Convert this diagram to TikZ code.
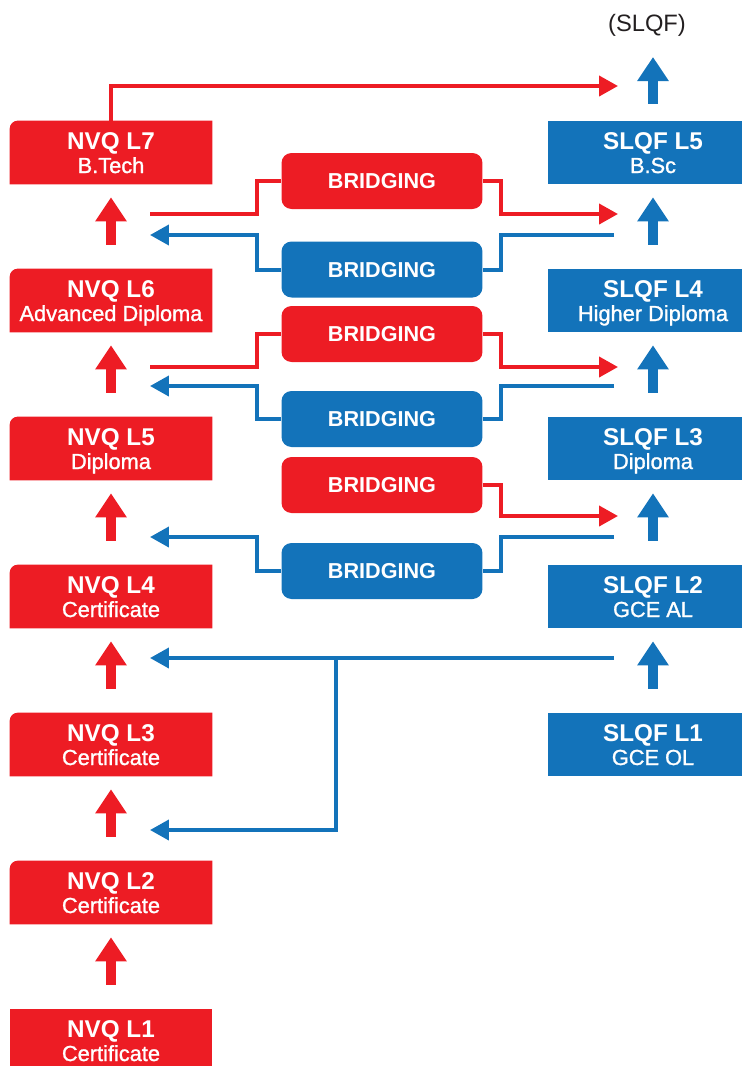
\documentclass[tikz,border=0pt]{standalone}
\usepackage{fontspec}
\setmainfont{Liberation Sans}
\newfontfamily\lvlsub[FakeBold=1.2]{Liberation Sans}
\usepackage{tikz}
\usetikzlibrary{arrows.meta}
\usetikzlibrary{positioning,calc,backgrounds}
\definecolor{nvqred}{HTML}{ED1C24}
\definecolor{slqfblue}{HTML}{1373BA}
\definecolor{labelgray}{HTML}{231F20}
\tikzstyle{nvq} = [rectangle, minimum width=4.04cm, minimum height=1.26cm, inner sep=0pt, text=white, align=center, text height=0.92cm, text depth=0.1cm, font=\fontsize{12.4}{13.1}\selectfont]
\tikzstyle{slqf} = [nvq, fill=slqfblue, minimum width=4.2cm]
\tikzstyle{bridge} = [rectangle, rounded corners=0.2cm, minimum width=4.02cm, minimum height=1.12cm, inner sep=0pt, text=white, text height=0.31cm, text depth=0pt, font=\fontsize{12.3}{14}\selectfont\bfseries]
\tikzstyle{redline} = [draw=nvqred, line width=0.08cm, -{Triangle[length=0.38cm,width=0.4cm]}]
\tikzstyle{blueline} = [redline, draw=slqfblue]
\tikzstyle{redup} = [draw=nvqred, line width=0.2cm, -{Triangle[length=0.48cm,width=0.6cm]}, shorten <=0.48cm, shorten >=0.26cm]
\tikzstyle{blueup} = [redup, draw=slqfblue]
\newcommand{\lvl}[2]{{\fontsize{13.8}{13.1}\selectfont\bfseries #1}\\{\lvlsub #2}}

\begin{document}
\begin{tikzpicture}[x=0.02cm, y=-0.02cm]
	\useasboundingbox (0,0) rectangle (742,1066);
	
	\node[text=labelgray, font=\fontsize{13.5}{15}\selectfont] (slqf) at (647,25) {(SLQF)};
	
	% NVQ column
	\node[nvq] (n7) at (111,152.5) {\lvl{NVQ L7}{B.Tech}};
	\node[nvq] (n6) at (111,300.5) {\lvl{NVQ L6}{Advanced Diploma}};
	\node[nvq] (n5) at (111,448.5) {\lvl{NVQ L5}{Diploma}};
	\node[nvq] (n4) at (111,596.5) {\lvl{NVQ L4}{Certificate}};
	\node[nvq] (n3) at (111,744.5) {\lvl{NVQ L3}{Certificate}};
	\node[nvq] (n2) at (111,892.5) {\lvl{NVQ L2}{Certificate}};
	\node[nvq] (n1) at (111,1040.5) {\lvl{NVQ L1}{Certificate}};
	\begin{scope}[on background layer]
		\foreach \k in {2,...,7}
		\fill[nvqred] (n\k.south east) -- (n\k.south west) -- ([yshift=-0.16cm]n\k.north west) arc (180:90:0.16cm) -- (n\k.north east) -- cycle;
		\fill[nvqred] (n1.south west) rectangle (n1.north east);
	\end{scope}
	
	% SLQF column
	\node[slqf] (s5) at (653,152.5) {\lvl{SLQF L5}{B.Sc}};
	\node[slqf] (s4) at (653,300.5) {\lvl{SLQF L4}{Higher Diploma}};
	\node[slqf] (s3) at (653,448.5) {\lvl{SLQF L3}{Diploma}};
	\node[slqf] (s2) at (653,596.5) {\lvl{SLQF L2}{GCE AL}};
	\node[slqf] (s1) at (653,744.5) {\lvl{SLQF L1}{GCE OL}};
	
	% bridging
	\node[bridge, fill=nvqred] (b1) at (382,181) {BRIDGING};
	\node[bridge, fill=slqfblue] (b2) at (382,269.5) {BRIDGING};
	\node[bridge, fill=nvqred] (b3) at (382,334) {BRIDGING};
	\node[bridge, fill=slqfblue] (b4) at (382,419) {BRIDGING};
	\node[bridge, fill=nvqred] (b5) at (382,485) {BRIDGING};
	\node[bridge, fill=slqfblue] (b6) at (382,571) {BRIDGING};
	
	\foreach \a/\b in {n1/n2,n2/n3,n3/n4,n4/n5,n5/n6,n6/n7}
	\draw[redup] (\a.north) -- (\b.south);
	\foreach \a/\b in {s1/s2,s2/s3,s3/s4,s4/s5}
	\draw[blueup] (\a.north) -- (\b.south);
	\coordinate (slqftop) at (653,57);
	\draw[blueup, shorten <=0.34cm, shorten >=0pt] (s5.north) -- (slqftop);
	
	\coordinate (rtop) at (618,86);
	\coordinate (rl1) at (150,214);
	\coordinate (rr1) at (618,214);
	\coordinate (br2) at (614,235);
	\coordinate (bl2) at (150,235);
	\coordinate (rl3) at (150,367);
	\coordinate (rr3) at (618,367);
	\coordinate (br4) at (614,386);
	\coordinate (bl4) at (150,386);
	\coordinate (rr5) at (618,516);
	\coordinate (br6) at (614,537);
	\coordinate (bl6) at (150,537);
	\coordinate (br7) at (614,658);
	\coordinate (bl7) at (150,658);
	\coordinate (split) at (336,658);
	\coordinate (bl8) at (150,830);
	
	\draw[redline] (n7.north) |- (rtop);
	\draw[redline] (rl1) -| ($(b1.west)+(-24,0)$) -- (b1.west) (b1.east) -- ++(18,0) |- (rr1);
	\draw[blueline] (br2) -| ($(b2.east)+(18,0)$) -- (b2.east) (b2.west) -- ++(-24,0) |- (bl2);
	\draw[redline] (rl3) -| ($(b3.west)+(-24,0)$) -- (b3.west) (b3.east) -- ++(18,0) |- (rr3);
	\draw[blueline] (br4) -| ($(b4.east)+(18,0)$) -- (b4.east) (b4.west) -- ++(-24,0) |- (bl4);
	\draw[redline] (b5.east) -- ++(18,0) |- (rr5);
	\draw[blueline] (br6) -| ($(b6.east)+(18,0)$) -- (b6.east) (b6.west) -- ++(-24,0) |- (bl6);
	\draw[blueline] (br7) -- (bl7);
	\draw[blueline] (split) |- (bl8);
\end{tikzpicture}
\end{document}
